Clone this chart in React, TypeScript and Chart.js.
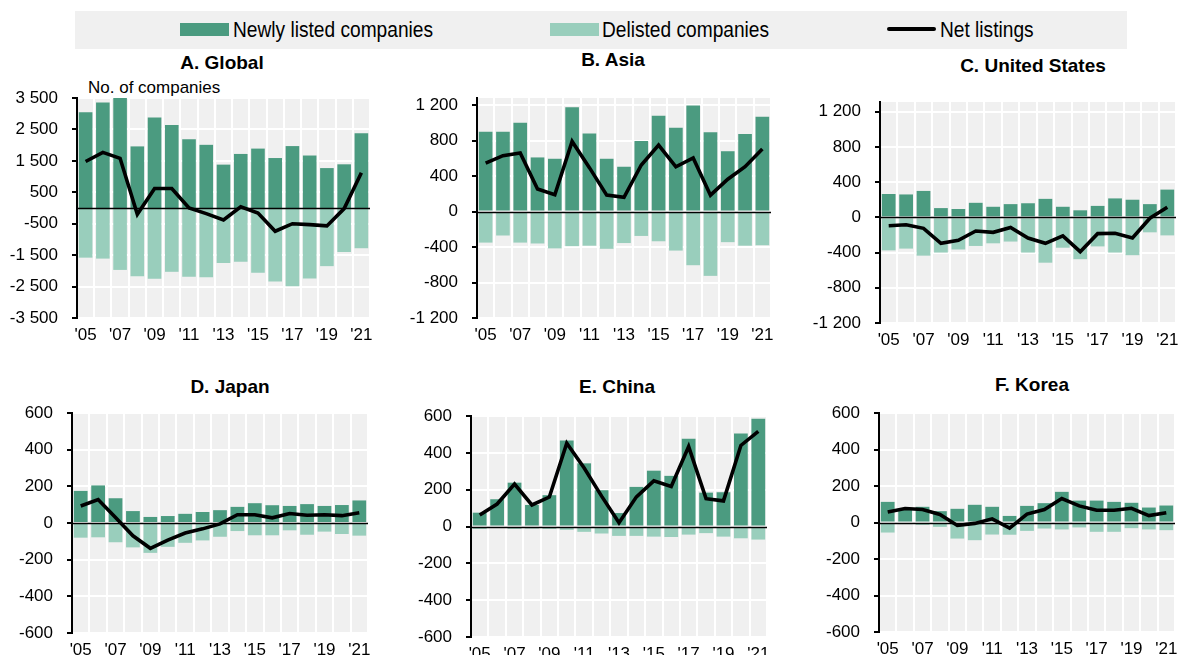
import React, { useEffect, useRef } from 'react';
import { Chart, registerables } from 'chart.js';

Chart.register(...registerables);

// ---------- data ----------
const yearLabels = ["'05", "'06", "'07", "'08", "'09", "'10", "'11", "'12", "'13", "'14", "'15", "'16", "'17", "'18", "'19", "'20", "'21"];

const globalNew = [3050, 3360, 3520, 1960, 2880, 2640, 2190, 2010, 1380, 1720, 1890, 1590, 1970, 1670, 1270, 1390, 2380];
const globalDelisted = [-1580, -1610, -1970, -2170, -2250, -2030, -2190, -2200, -1750, -1710, -2060, -2340, -2490, -2240, -1850, -1400, -1280];
const globalNet = [1480, 1770, 1580, -200, 620, 620, 0, -180, -380, 40, -160, -740, -500, -530, -570, -20, 1120];

const asiaNew = [900, 900, 1000, 610, 595, 1175, 880, 595, 505, 795, 1080, 945, 1195, 895, 680, 875, 1070];
const asiaDelisted = [-350, -270, -350, -360, -415, -390, -385, -420, -355, -275, -335, -440, -605, -725, -345, -385, -380];
const asiaNet = [545, 630, 660, 255, 190, 790, 495, 185, 160, 525, 750, 505, 605, 185, 365, 505, 705];

const usNew = [265, 260, 300, 105, 95, 165, 120, 150, 160, 210, 120, 80, 130, 215, 200, 150, 315];
const usDelisted = [-375, -355, -435, -400, -365, -325, -295, -275, -400, -515, -345, -475, -330, -400, -430, -170, -205];
const usNet = [-95, -85, -125, -295, -260, -155, -170, -115, -235, -295, -210, -390, -185, -180, -235, -10, 115];

const japanNew = [175, 205, 135, 65, 33, 38, 50, 60, 70, 88, 108, 97, 93, 103, 93, 98, 123];
const japanDelisted = [-80, -78, -105, -133, -163, -130, -108, -95, -75, -44, -67, -67, -40, -64, -47, -60, -69];
const japanNet = [93, 128, 30, -70, -138, -93, -55, -32, -5, 45, 45, 28, 52, 42, 45, 40, 56];

const chinaNew = [75, 148, 238, 117, 170, 467, 343, 197, 73, 215, 303, 275, 476, 184, 186, 505, 585];
const chinaDelisted = [-13, -7, -13, -11, -13, -18, -29, -38, -51, -51, -55, -57, -44, -36, -55, -64, -71];
const chinaNet = [62, 122, 230, 117, 160, 452, 318, 165, 20, 161, 248, 217, 434, 151, 139, 440, 516];

const koreaNew = [113, 70, 86, 62, 75, 97, 86, 36, 91, 106, 168, 120, 120, 113, 108, 82, 93];
const koreaDelisted = [-55, -9, -13, -24, -88, -97, -66, -67, -46, -33, -38, -27, -51, -51, -31, -38, -42];
const koreaNet = [57, 77, 71, 44, -16, -5, 20, -31, 46, 71, 131, 91, 67, 67, 78, 38, 53];

const globalTicks = [-3500, -2500, -1500, -500, 500, 1500, 2500, 3500];
const wideTicks = [-1200, -800, -400, 0, 400, 800, 1200];
const smallTicks = [-600, -400, -200, 0, 200, 400, 600];

const legendLabels = ['Newly listed companies', 'Delisted companies', 'Net listings'];

// ---------- styles ----------
const GREEN = 'rgb(75,155,128)';
const LIGHT = 'rgb(153,206,188)';
const PANEL_BG = '#f0f0f0';
const REGULAR = '"Liberation Sans", Arial, sans-serif';
const TICK_SIZE = 17;

type PanelCfg = {
  title: string;
  titleX: number;
  titleY: number;
  newData: number[];
  delData: number[];
  netData: number[];
  ticks: number[];
  min: number;
  max: number;
  L: number; x0: number; x1: number; y0: number; y1: number;
};

const panels: PanelCfg[] = [
  { title: 'A. Global', titleX: 222, titleY: 63, newData: globalNew, delData: globalDelisted, netData: globalNet, ticks: globalTicks, min: -3500, max: 3500, L: 0, x0: 77, x1: 370, y0: 98, y1: 318 },
  { title: 'B. Asia', titleX: 613, titleY: 60, newData: asiaNew, delData: asiaDelisted, netData: asiaNet, ticks: wideTicks, min: -1200, max: 1280, L: 390, x0: 477, x1: 771, y0: 98, y1: 318 },
  { title: 'C. United States', titleX: 1033, titleY: 66, newData: usNew, delData: usDelisted, netData: usNet, ticks: wideTicks, min: -1200, max: 1310, L: 790, x0: 880, x1: 1176, y0: 102, y1: 323 },
  { title: 'D. Japan', titleX: 230, titleY: 387, newData: japanNew, delData: japanDelisted, netData: japanNet, ticks: smallTicks, min: -600, max: 600, L: 0, x0: 72, x1: 368, y0: 413, y1: 633 },
  { title: 'E. China', titleX: 617, titleY: 387, newData: chinaNew, delData: chinaDelisted, netData: chinaNet, ticks: smallTicks, min: -600, max: 600, L: 390, x0: 471, x1: 767, y0: 416, y1: 637 },
  { title: 'F. Korea', titleX: 1032, titleY: 385, newData: koreaNew, delData: koreaDelisted, netData: koreaNet, ticks: smallTicks, min: -600, max: 600, L: 790, x0: 879, x1: 1175, y0: 413, y1: 632 },
];

const fmt = (n: number) => {
  const s = Math.abs(n).toString().replace(/\B(?=(\d{3})+(?!\d))/g, ' ');
  return (n < 0 ? '-' : '') + s;
};

const bgPlugin = {
  id: 'panelBg',
  beforeDraw(chart: any) {
    const { ctx, chartArea } = chart;
    ctx.save();
    ctx.fillStyle = PANEL_BG;
    ctx.fillRect(chartArea.left, chartArea.top, chartArea.right - chartArea.left, chartArea.bottom - chartArea.top);
    ctx.restore();
  },
};

const zeroPlugin = {
  id: 'zeroLine',
  beforeDatasetDraw(chart: any, args: any) {
    if (args.meta.type !== 'line') return;
    const { ctx, chartArea } = chart;
    const y = Math.round(chart.scales.y.getPixelForValue(0)) + 0.5;
    ctx.save();
    ctx.strokeStyle = '#000';
    ctx.lineWidth = 1.6;
    ctx.beginPath();
    ctx.moveTo(chartArea.left, y);
    ctx.lineTo(chartArea.right, y);
    ctx.stroke();
    ctx.restore();
  },
};

const TOP_PAD = 28;
const RIGHT_PAD = 10;
const BOTTOM_SPACE = 40;

function Panel({ cfg }: { cfg: PanelCfg }) {
  const ref = useRef<HTMLCanvasElement>(null);
  const width = cfg.x1 - cfg.L + RIGHT_PAD;
  const plotH = cfg.y1 - cfg.y0;
  const height = TOP_PAD + plotH + BOTTOM_SPACE;

  useEffect(() => {
    if (!ref.current) return;
    const chart = new Chart(ref.current, {
      type: 'bar',
      data: {
        labels: yearLabels,
        datasets: [
          { type: 'bar', label: legendLabels[0], data: cfg.newData, backgroundColor: GREEN, barPercentage: 0.79, categoryPercentage: 1, order: 2 } as any,
          { type: 'bar', label: legendLabels[1], data: cfg.delData, backgroundColor: LIGHT, barPercentage: 0.79, categoryPercentage: 1, order: 2 } as any,
          { type: 'line', label: legendLabels[2], data: cfg.netData, borderColor: '#000', borderWidth: 3.6, pointRadius: 0, tension: 0, fill: false, order: 1 } as any,
        ],
      },
      options: {
        animation: false,
        responsive: false,
        devicePixelRatio: 1,
        layout: { padding: { top: TOP_PAD, right: RIGHT_PAD, left: 0, bottom: 0 } },
        plugins: { legend: { display: false }, tooltip: { enabled: false }, title: { display: false } },
        scales: {
          x: {
            stacked: true,
            grid: { color: '#ffffff', lineWidth: 2, offset: true, drawTicks: false },
            border: { display: false },
            ticks: {
              autoSkip: false,
              maxRotation: 0,
              minRotation: 0,
              padding: 7,
              color: '#000',
              font: { family: REGULAR, size: TICK_SIZE },
              callback: (_v: any, i: number) => (i % 2 === 0 ? yearLabels[i] : ''),
            },
            afterFit: (s: any) => { s.height = BOTTOM_SPACE; },
          },
          y: {
            stacked: true,
            min: cfg.min,
            max: cfg.max,
            afterBuildTicks: (s: any) => { s.ticks = cfg.ticks.map((v) => ({ value: v })); },
            grid: { color: '#ffffff', lineWidth: 2, tickColor: '#000', tickLength: 5, drawTicks: true },
            border: { display: true, color: '#000', width: 2 },
            ticks: {
              padding: 14,
              color: '#000',
              font: { family: REGULAR, size: TICK_SIZE },
              callback: (v: any) => fmt(Number(v)),
            },
            afterFit: (s: any) => { s.width = cfg.x0 - cfg.L; },
          },
        },
      } as any,
      plugins: [bgPlugin, zeroPlugin],
    });
    return () => chart.destroy();
  }, [cfg]);

  return (
    <canvas
      ref={ref}
      width={width}
      height={height}
      style={{ position: 'absolute', left: cfg.L, top: cfg.y0 - TOP_PAD, width, height }}
    />
  );
}

const legendText: React.CSSProperties = {
  position: 'absolute',
  top: 0,
  height: 38,
  lineHeight: '38px',
  whiteSpace: 'nowrap',
  transform: 'scaleX(0.87)',
  transformOrigin: 'left center',
};

export default function App() {
  return (
    <div style={{ position: 'absolute', left: 0, top: 0, width: 1180, height: 655, overflow: 'hidden', background: '#fff' }}>
      {/* legend */}
      <div style={{ position: 'absolute', left: 75, top: 11, width: 1052, height: 38, background: PANEL_BG, fontFamily: REGULAR, fontSize: 22, color: '#000' }}>
        <div style={{ position: 'absolute', left: 105, top: 12, width: 49, height: 13, background: GREEN }} />
        <div style={{ ...legendText, left: 158 }}>{legendLabels[0]}</div>
        <div style={{ position: 'absolute', left: 475, top: 12, width: 49, height: 13, background: LIGHT }} />
        <div style={{ ...legendText, left: 527 }}>{legendLabels[1]}</div>
        <div style={{ position: 'absolute', left: 812, top: 16, width: 49, height: 4, background: '#000', borderRadius: 2 }} />
        <div style={{ ...legendText, left: 865 }}>{legendLabels[2]}</div>
      </div>

      {panels.map((p) => (
        <div key={p.title + 't'} style={{ position: 'absolute', left: p.titleX - 150, top: p.titleY - 12, width: 300, height: 24, lineHeight: '24px', textAlign: 'center', fontFamily: REGULAR, fontWeight: 'bold', fontSize: 19, color: '#000', whiteSpace: 'nowrap' }}>
          {p.title}
        </div>
      ))}

      <div style={{ position: 'absolute', left: 88, top: 77, height: 22, lineHeight: '22px', fontFamily: REGULAR, fontSize: 17, color: '#000', whiteSpace: 'nowrap' }}>
        No. of companies
      </div>

      {panels.map((p) => (
        <Panel key={p.title} cfg={p} />
      ))}
    </div>
  );
}
